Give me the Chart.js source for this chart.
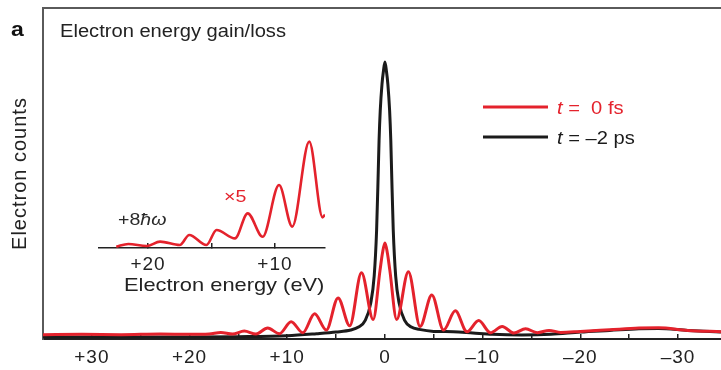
<!DOCTYPE html>
<html>
<head>
<meta charset="utf-8">
<script src="https://cdn.jsdelivr.net/npm/chart.js@4.4.1/dist/chart.umd.min.js"></script>
<style>
html, body { margin: 0; padding: 0; background: #fff; }
#wrap { position: relative; width: 721px; height: 370px; }
#main { position: absolute; left: 0; top: 0; }
#inset { position: absolute; left: 90px; top: 120px; }
</style>
</head>
<body>
<div id="wrap">
  <canvas id="main" width="721" height="370"></canvas>
  <canvas id="inset" width="245" height="185"></canvas>
</div>
<script>
// energies in eV (gain positive, drawn on the left), counts in arbitrary units
var redEnergy = [35.0, 31, 27, 23, 20, 18.0, 16.8, 15.6, 14.4, 13.2, 12.0, 10.8, 9.6, 8.4, 7.2, 6.0, 4.8, 3.6, 2.4, 1.2, 0.5, 0.25, 0, -0.25, -0.5, -1.2, -2.4, -3.6, -4.8, -6.0, -7.2, -8.4, -9.6, -10.8, -12.0, -13.2, -14.4, -15.6, -16.8, -18.0, -20, -23, -26, -28, -31, -34.4];
var redCounts = [1.3, 1.4, 1.3, 1.5, 1.4, 1.5, 2.0, 1.5, 2.4, 1.5, 3.3, 1.6, 5.2, 1.9, 7.6, 2.7, 12.4, 4.0, 20.0, 5.9, 20.8, 26, 29.0, 26, 20.8, 5.9, 20.3, 3.8, 13.3, 2.7, 8.5, 2.2, 5.6, 1.9, 3.8, 1.8, 3.1, 1.9, 2.6, 2.0, 2.3, 2.8, 3.3, 3.4, 2.6, 2.2];

var blackEnergy = [35.0, 25, 20, 15, 10, 7, 5, 3.5, 2.7, 2.0, 1.45, 1.1, 0.85, 0.68, 0.6, 0.48, 0.3, 0.15, 0, -0.15, -0.3, -0.48, -0.6, -0.68, -0.85, -1.1, -1.45, -2.0, -2.7, -3.5, -5, -7, -9, -11, -14, -17, -20, -23, -26, -28, -31, -34.4];
var blackCounts = [0.6, 0.6, 0.6, 0.7, 1.0, 1.6, 2.1, 2.7, 3.6, 5.7, 10.9, 19, 33, 51, 60, 69, 77, 81, 83.7, 81, 77, 69, 60, 51, 33, 19, 10.9, 5.7, 3.6, 2.9, 2.3, 2.2, 1.8, 1.4, 1.2, 1.4, 2.1, 2.6, 3.1, 3.2, 2.6, 2.1];

// inset: gain side, x5
var insetEnergy = [22.5, 21.55, 20.1, 19.05, 17.5, 16.75, 15.4, 14.6, 13.15, 12.15, 10.97, 9.68, 8.64, 7.3, 6.25, 6.06];
var insetCounts = [0.5, 1.5, 0.75, 2.4, 1.1, 4.9, 1.1, 6.75, 3.6, 13.0, 4.2, 23.6, 8.0, 39.9, 11.5, 12.5];

var xTicks = [30, 25, 20, 15, 10, 5, 0, -5, -10, -15, -20, -25, -30];
var xTickLabels = ['+30', '', '+20', '', '+10', '', '0', '', '\u201310', '', '\u201320', '', '\u201330'];
var insetTicks = [20, 15, 10];
var insetTickLabels = ['+20', '', '+10'];

var RED = '#e4222c';
var INK = '#1b1b1b';
var FAMILY = "'Liberation Sans', Arial, Helvetica, sans-serif";
var S = 1.15; // horizontal stretch of the free text

Chart.defaults.font.family = FAMILY;
Chart.defaults.color = '#222';

function pts(xs, ys) {
  return xs.map(function (x, i) { return { x: x, y: ys[i] }; });
}

function say(ctx, str, x, y, font, color) {
  ctx.save();
  ctx.font = font;
  ctx.fillStyle = color;
  ctx.textBaseline = 'alphabetic';
  ctx.textAlign = 'left';
  var w = ctx.measureText(str).width * S;
  ctx.translate(x, y);
  ctx.scale(S, 1);
  ctx.fillText(str, 0, 0);
  ctx.restore();
  return x + w;
}

var spacing = {
  id: 'spacing',
  beforeDraw: function (chart) { chart.ctx.letterSpacing = '1px'; }
};

var mainText = {
  id: 'mainText',
  afterDraw: function (chart) {
    var ctx = chart.ctx;
    ctx.letterSpacing = '0px';
    say(ctx, 'a', 11, 36, 'bold 20px ' + FAMILY, '#111');
    say(ctx, 'Electron energy gain/loss', 60, 36.5, '17.5px ' + FAMILY, '#222');

    ctx.save();
    ctx.lineWidth = 3;
    ctx.strokeStyle = RED;
    ctx.beginPath(); ctx.moveTo(483, 107); ctx.lineTo(548, 107); ctx.stroke();
    ctx.strokeStyle = INK;
    ctx.beginPath(); ctx.moveTo(483, 137); ctx.lineTo(548, 137); ctx.stroke();
    ctx.restore();

    var x = say(ctx, 't', 557, 113.5, 'italic 17.5px ' + FAMILY, RED);
    say(ctx, ' =  0 fs', x, 113.5, '17.5px ' + FAMILY, RED);
    x = say(ctx, 't', 557, 143.5, 'italic 17.5px ' + FAMILY, INK);
    say(ctx, ' = \u20132 ps', x, 143.5, '17.5px ' + FAMILY, INK);
  }
};

new Chart(document.getElementById('main'), {
  type: 'line',
  data: {
    datasets: [
      { label: 't = 0 fs', data: pts(redEnergy, redCounts), borderColor: RED, borderWidth: 3,
        pointRadius: 0, cubicInterpolationMode: 'monotone', fill: false },
      { label: 't = \u20132 ps', data: pts(blackEnergy, blackCounts), borderColor: INK, borderWidth: 3,
        pointRadius: 0, cubicInterpolationMode: 'monotone', fill: false }
    ]
  },
  options: {
    responsive: false,
    animation: false,
    events: [],
    layout: { padding: { top: 8, right: 0, left: 0, bottom: 0 } },
    plugins: { legend: { display: false }, tooltip: { enabled: false } },
    scales: {
      x: {
        type: 'linear', reverse: true, min: -34.4, max: 35.0,
        afterBuildTicks: function (s) { s.ticks = xTicks.map(function (v) { return { value: v }; }); },
        afterFit: function (s) { s.height = 31; },
        ticks: {
          autoSkip: false, maxRotation: 0, padding: 12, color: '#222',
          font: { size: 19 },
          callback: function (v, i) { return xTickLabels[i]; }
        },
        grid: { display: true, drawOnChartArea: false, drawTicks: true, tickLength: -5, color: '#222', lineWidth: 1.5 },
        border: { display: true, color: '#222', width: 2 }
      },
      xTop: {
        type: 'linear', position: 'top', reverse: true, min: -34.4, max: 35.0,
        afterFit: function (s) { s.height = 0; },
        ticks: { display: false },
        grid: { display: false, drawTicks: false },
        border: { display: true, color: '#5a5a5a', width: 2 }
      },
      y: {
        min: 0, max: 100,
        afterFit: function (s) { s.width = 43; },
        ticks: { display: false },
        grid: { display: false, drawTicks: false },
        border: { display: true, color: '#5a5a5a', width: 2 },
        title: { display: true, text: 'Electron counts', font: { size: 20 }, color: '#222', padding: { top: 8, bottom: 0 } }
      }
    }
  },
  plugins: [spacing, mainText]
});

var insetText = {
  id: 'insetText',
  afterDraw: function (chart) {
    var ctx = chart.ctx;
    ctx.letterSpacing = '0px';
    var x = say(ctx, '+8', 28, 105, '17px ' + FAMILY, '#2a2a2a');
    say(ctx, '\u0127\u03c9', x, 105, 'italic 17px ' + FAMILY, '#2a2a2a');
    say(ctx, '\u00d75', 134, 82, '17px ' + FAMILY, RED);
    say(ctx, 'Electron energy (eV)', 34, 171, '19px ' + FAMILY, '#222');
  }
};

new Chart(document.getElementById('inset'), {
  type: 'line',
  data: {
    datasets: [
      { label: 'x5', data: pts(insetEnergy, insetCounts), borderColor: RED, borderWidth: 2.6,
        pointRadius: 0, cubicInterpolationMode: 'monotone', fill: false }
    ]
  },
  options: {
    responsive: false,
    animation: false,
    events: [],
    layout: { padding: { top: 8, right: 10, left: 9, bottom: 0 } },
    plugins: { legend: { display: false }, tooltip: { enabled: false } },
    scales: {
      x: {
        type: 'linear', reverse: true, min: 6.06, max: 23.86,
        afterBuildTicks: function (s) { s.ticks = insetTicks.map(function (v) { return { value: v }; }); },
        afterFit: function (s) { s.height = 57; },
        ticks: {
          autoSkip: false, maxRotation: 0, padding: 10, color: '#222',
          font: { size: 19 },
          callback: function (v, i) { return insetTickLabels[i]; }
        },
        grid: { display: true, drawOnChartArea: false, drawTicks: true, tickLength: -5, color: '#222', lineWidth: 1.5 },
        border: { display: true, color: '#222', width: 1.5 }
      },
      y: { display: false, min: 0, max: 45 }
    }
  },
  plugins: [spacing, insetText]
});
</script>
</body>
</html>
